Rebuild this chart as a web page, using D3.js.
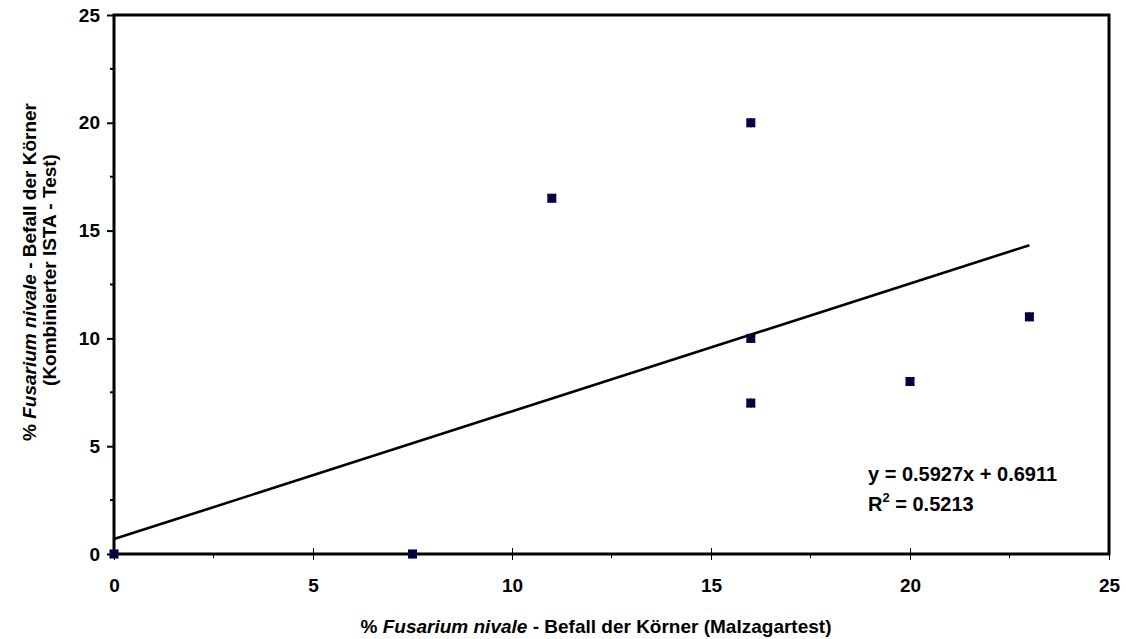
<!DOCTYPE html>
<html>
<head>
<meta charset="utf-8">
<script src="https://cdn.jsdelivr.net/npm/d3@7"></script>
<style>
  body { margin: 0; background: #fff; }
  text { font-family: Arial, "Liberation Sans", sans-serif; font-weight: bold; }
</style>
</head>
<body>
<div id="chart"></div>
<script>
// data
const xValues = [0, 7.5, 11, 16, 16, 16, 20, 23]
const yValues = [0, 0, 16.5, 20, 10, 7, 8, 11]
const xTicks = [0, 5, 10, 15, 20, 25]
const yTicks = [0, 5, 10, 15, 20, 25]
const slope = 0.5927
const intercept = 0.6911
const rSquared = 0.5213

const width = 1126
const height = 639
const margin = { top: 15, right: 17, bottom: 85, left: 114 }
const plotW = width - margin.left - margin.right
const plotH = height - margin.top - margin.bottom

const svg = d3.select("#chart").append("svg")
  .attr("width", width)
  .attr("height", height)

const g = svg.append("g")
  .attr("transform", "translate(" + margin.left + "," + margin.top + ")")

const x = d3.scaleLinear().domain([0, 25]).range([0, plotW])
const y = d3.scaleLinear().domain([0, 25]).range([plotH, 0])

// minor ticks
const xMinor = d3.range(2.5, 25, 5)
const yMinor = d3.range(2.5, 25, 5)

g.selectAll(".xminor").data(xMinor).enter().append("line")
  .attr("x1", d => x(d)).attr("x2", d => x(d))
  .attr("y1", plotH).attr("y2", plotH + 4)
  .attr("stroke", "#000").attr("stroke-width", 1)

g.selectAll(".yminor").data(yMinor).enter().append("line")
  .attr("x1", -4).attr("x2", 0)
  .attr("y1", d => y(d)).attr("y2", d => y(d))
  .attr("stroke", "#000").attr("stroke-width", 2)

// x axis: major ticks cross the axis line
const xAxis = g.append("g")
  .attr("transform", "translate(0," + plotH + ")")
  .call(d3.axisBottom(x).tickValues(xTicks).tickSize(6).tickPadding(19).tickSizeOuter(0))
xAxis.select(".domain").remove()
xAxis.selectAll(".tick line").attr("y1", -6).attr("stroke-width", 1)
xAxis.selectAll(".tick text").attr("font-size", 19).attr("font-family", null)

// y axis: ticks outside
const yAxis = g.append("g")
  .call(d3.axisLeft(y).tickValues(yTicks).tickSize(7).tickPadding(7).tickSizeOuter(0))
yAxis.select(".domain").remove()
yAxis.selectAll(".tick line").attr("stroke-width", 2)
yAxis.selectAll(".tick text").attr("font-size", 19).attr("font-family", null)

// plot frame
g.append("rect")
  .attr("x", 0).attr("y", 0)
  .attr("width", plotW).attr("height", plotH)
  .attr("fill", "none")
  .attr("stroke", "#000")
  .attr("stroke-width", 3)

// trend line
const xMax = d3.max(xValues)
g.append("path")
  .datum([0, xMax])
  .attr("fill", "none")
  .attr("stroke", "#000")
  .attr("stroke-width", 2.6)
  .attr("d", d3.line().x(d => x(d)).y(d => y(slope * d + intercept)))

// markers
const pts = xValues.map((v, i) => ({ x: v, y: yValues[i] }))
const m = g.selectAll(".pt").data(pts).enter().append("g")
  .attr("transform", d => "translate(" + x(d.x) + "," + y(d.y) + ")")
m.append("rect")
  .attr("x", -4.5).attr("y", -4.5).attr("width", 9).attr("height", 9)
  .attr("fill", "#000080")
m.append("path")
  .attr("d", "M-4,-4L4,4M-4,4L4,-4M0,-4.5L0,-2.5M0,2.5L0,4.5")
  .attr("stroke", "#000").attr("stroke-width", 1.6)

// equation
const eq = g.append("text")
  .attr("x", 754).attr("y", 466)
  .attr("font-size", 20)
eq.text("y = " + slope + "x + " + intercept)

const r2 = g.append("text")
  .attr("x", 754).attr("y", 496)
  .attr("font-size", 20)
r2.append("tspan").text("R")
r2.append("tspan").attr("font-size", 13).attr("dy", -9).text("2")
r2.append("tspan").attr("dy", 9).text(" = " + rSquared)

// x title
const xt = svg.append("text")
  .attr("x", 596).attr("y", 633)
  .attr("text-anchor", "middle")
  .attr("font-size", 19)
xt.append("tspan").text("% ")
xt.append("tspan").attr("font-style", "italic").text("Fusarium nivale")
xt.append("tspan").text(" - Befall der Körner (Malzagartest)")

// y title, two lines
const yt = svg.append("text")
  .attr("transform", "translate(36,272) rotate(-90)")
  .attr("text-anchor", "middle")
  .attr("font-size", 19)
yt.append("tspan").text("% ")
yt.append("tspan").attr("font-style", "italic").text("Fusarium nivale")
yt.append("tspan").text(" - Befall der Körner")

svg.append("text")
  .attr("transform", "translate(56,270) rotate(-90)")
  .attr("text-anchor", "middle")
  .attr("font-size", 19)
  .text("(Kombinierter ISTA - Test)")
</script>
</body>
</html>
